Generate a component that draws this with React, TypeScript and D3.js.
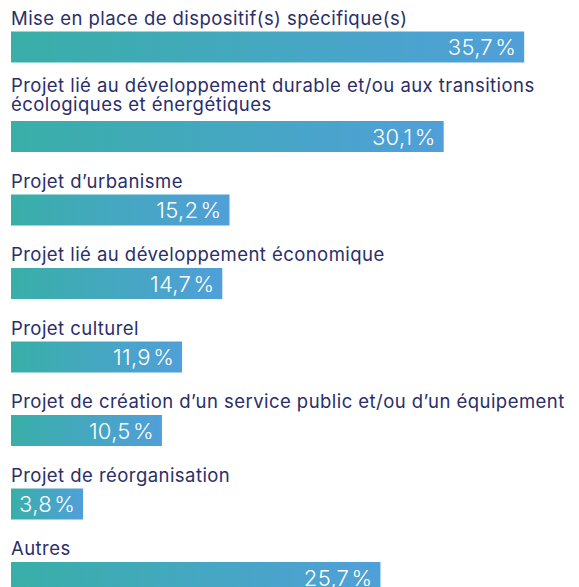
import React, { useEffect, useRef } from "react";
import * as d3 from "d3";

const categories: string[][] = [
  ["Mise en place de dispositif(s) spécifique(s)"],
  ["Projet lié au développement durable et/ou aux transitions", "écologiques et énergétiques"],
  ["Projet d’urbanisme"],
  ["Projet lié au développement économique"],
  ["Projet culturel"],
  ["Projet de création d’un service public et/ou d’un équipement"],
  ["Projet de réorganisation"],
  ["Autres"],
];
const values: number[] = [35.7, 30.1, 15.2, 14.7, 11.9, 10.5, 3.8, 25.7];

const W = 579;
const H = 587;
const LEFT = 11;
const BAR_H = 31;
const GAP = 42.5;
const LINE_H = 19;
const FONT = "Inter, 'Noto Sans', sans-serif";

const fmt = (v: number) => v.toFixed(1).replace(".", ",") + "\u200A%";

export default function App() {
  const ref = useRef<SVGSVGElement>(null);

  useEffect(() => {
    const svg = d3.select(ref.current);
    svg.selectAll("*").remove();

    const defs = svg.append("defs");
    const grad = defs
      .append("linearGradient")
      .attr("id", "barGrad")
      .attr("x1", "0%")
      .attr("x2", "100%")
      .attr("y1", "0%")
      .attr("y2", "0%");
    grad.append("stop").attr("offset", "0%").attr("stop-color", "#39afa8");
    grad.append("stop").attr("offset", "100%").attr("stop-color", "#509fd9");

    const x = d3.scaleLinear().domain([0, 40]).range([0, 575]);

    let prevBottom = -11;
    values.forEach((v, i) => {
      const lines = categories[i];
      const n = lines.length;
      const barTop = prevBottom + GAP + (n - 1) * 16;
      const g = svg.append("g");

      lines.forEach((ln, j) => {
        g.append("text")
          .attr("x", LEFT)
          .attr("y", barTop - 7 - (n - 1 - j) * LINE_H - (n - 1) * 3)
          .attr("font-family", FONT)
          .attr("font-size", 18.5)
          .attr("letter-spacing", 0.45)
          .attr("fill", "#2a2e6a")
          .text(ln);
      });

      const label = g
        .append("text")
        .attr("font-family", FONT)
        .attr("font-size", 22)
        .attr("font-weight", 300)
        .attr("letter-spacing", 0.3)
        .attr("fill", "#ffffff")
        .attr("text-anchor", "end")
        .text(fmt(v));
      const tw = (label.node() as SVGTextElement).getComputedTextLength();
      const w = Math.max(x(v), tw + 16);

      g.insert("rect", "text")
        .attr("x", LEFT)
        .attr("y", barTop)
        .attr("width", w)
        .attr("height", BAR_H)
        .attr("fill", "url(#barGrad)");

      label.attr("x", LEFT + w - (w > tw + 16 ? 8 : 8)).attr("y", barTop + BAR_H / 2 + 8);

      prevBottom = barTop + BAR_H;
    });
  }, []);

  return (
    <svg
      ref={ref}
      width={W}
      height={H}
      style={{ position: "absolute", left: 0, top: 0, background: "#ffffff" }}
    />
  );
}
